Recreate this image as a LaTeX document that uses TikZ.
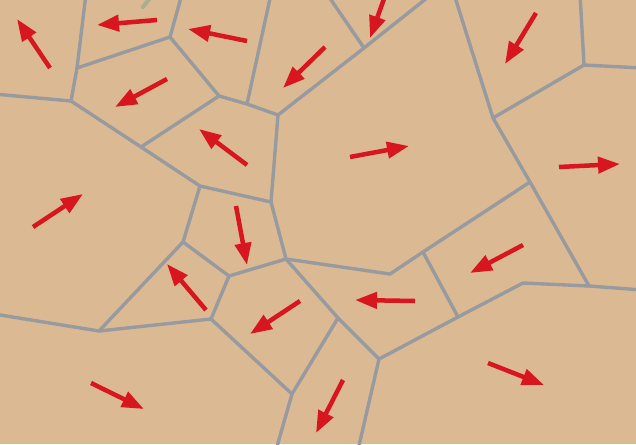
\documentclass[tikz,border=0pt]{standalone}
\usepackage{tikz}
\usetikzlibrary{arrows.meta}
\definecolor{cellfill}{HTML}{DBB992}
\definecolor{wallgray}{HTML}{979A9F}
\definecolor{flowred}{HTML}{D7161F}
\definecolor{faintgreen}{HTML}{A9AE8C}
\tikzset{
  wall/.style={line width=3.4pt,wallgray,line join=round},
  flow/.style={-{Triangle[length=22pt,width=16pt]},line width=4.5pt,flowred},
  stub/.style={line width=4pt,faintgreen,line cap=round}
}

\begin{document}
\begin{tikzpicture}[x=1pt,y=-1pt]
  \fill[cellfill] (0,0) rectangle (636,444);
  \useasboundingbox (0,0) rectangle (636,444);
  \clip (0,0) rectangle (636,444);
  % cell corners
  \coordinate (A) at (77,68);   \coordinate (B) at (71,101);
  \coordinate (C) at (170,37);  \coordinate (D) at (219,96);
  \coordinate (E) at (141,147); \coordinate (F) at (200,186);
  \coordinate (G) at (247,104); \coordinate (H) at (278,115);
  \coordinate (I) at (364,48);  \coordinate (J) at (271,202);
  \coordinate (K) at (493,118); \coordinate (L) at (584,65);
  \coordinate (M) at (530,182); \coordinate (N) at (589,286);
  \coordinate (O) at (423,252); \coordinate (P) at (390,274);
  \coordinate (Q) at (286,259); \coordinate (R) at (458,317);
  \coordinate (S) at (523,283); \coordinate (T) at (379,359);
  \coordinate (U) at (338,318); \coordinate (V) at (292,394);
  \coordinate (W) at (183,242); \coordinate (X) at (229,276);
  \coordinate (Y) at (211,319); \coordinate (Z) at (99,331);
  % cell walls
  \draw[wall] (86,-6) -- (A) -- (B) -- (-6,94);
  \draw[wall] (A) -- (C) -- (182,-6);
  \draw[wall] (C) -- (D) -- (E) -- (B);
  \draw[wall] (E) -- (F) -- (J) -- (H) -- (G) -- (D);
  \draw[wall] (G) -- (271,-6);
  \draw[wall] (H) -- (I) -- (327,-6);
  \draw[wall] (I) -- (432,-6);
  \draw[wall] (454,-6) -- (K) -- (L) -- (580,-6);
  \draw[wall] (L) -- (642,68);
  \draw[wall] (K) -- (M) -- (N) -- (642,290);
  \draw[wall] (M) -- (O) -- (P) -- (Q) -- (J);
  \draw[wall] (O) -- (R) -- (S) -- (N);
  \draw[wall] (R) -- (T) -- (358,450);
  \draw[wall] (T) -- (U) -- (Q) -- (X) -- (W) -- (F);
  \draw[wall] (U) -- (V) -- (276,450);
  \draw[wall] (V) -- (Y) -- (X);
  \draw[wall] (Y) -- (Z) -- (-6,314);
  \draw[wall] (Z) -- (W);
  \draw[stub] (150,-2) -- (143,7);
  % flow arrows
  \draw[flow] (50,68) -- (17,19);
  \draw[flow] (157,20) -- (97,25);
  \draw[flow] (247,41) -- (188,29);
  \draw[flow] (325,47) -- (283,88);
  \draw[flow] (167,79) -- (115,107);
  \draw[flow] (247,165) -- (199,129);
  \draw[flow] (33,227) -- (83,194);
  \draw[flow] (236,206) -- (247,265);
  \draw[flow] (385,-4) -- (370,38);
  \draw[flow] (536,13) -- (505,64);
  \draw[flow] (350,157) -- (409,146);
  \draw[flow] (559,167) -- (620,164);
  \draw[flow] (523,245) -- (470,273);
  \draw[flow] (415,301) -- (355,300);
  \draw[flow] (488,363) -- (544,385);
  \draw[flow] (343,380) -- (316,433);
  \draw[flow] (206,310) -- (167,264);
  \draw[flow] (300,301) -- (250,334);
  \draw[flow] (91,383) -- (144,409);
\end{tikzpicture}
\end{document}
